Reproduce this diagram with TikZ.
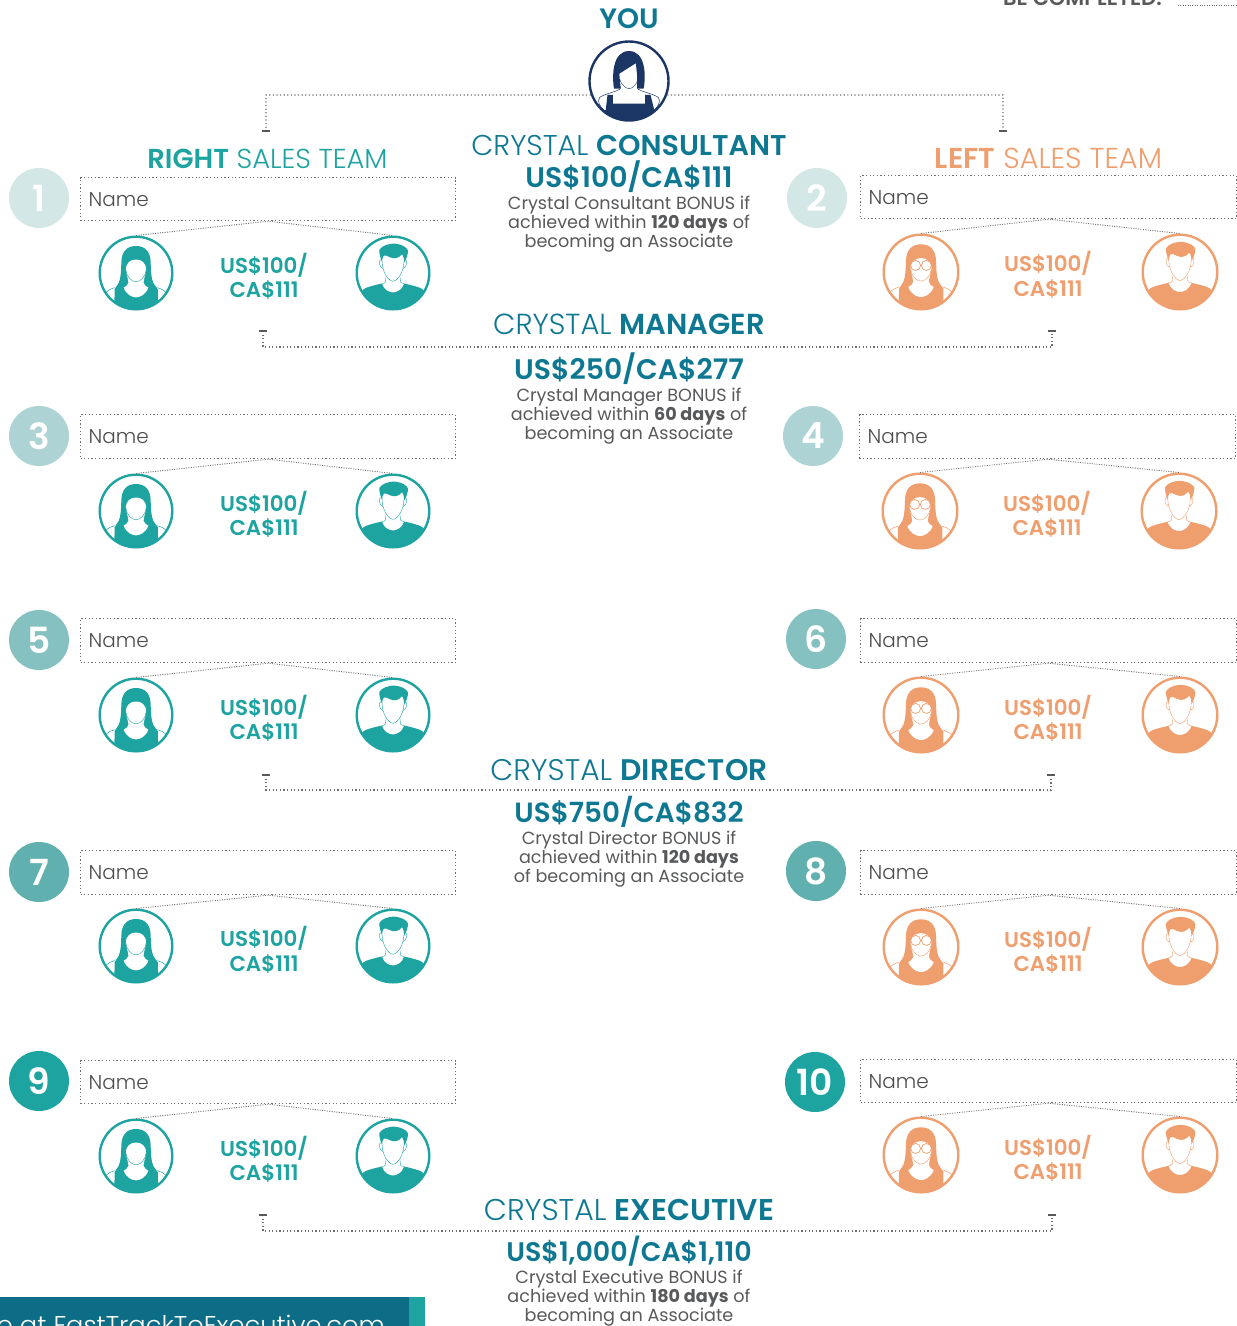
\documentclass[tikz,border=0pt]{standalone}
\usepackage{fontspec}
\setmainfont{Poppins}[UprightFont=* Light,BoldFont=* SemiBold]
\newfontfamily\regf{Poppins}
\definecolor{tealc}{HTML}{1DA3A0}
\definecolor{orangec}{HTML}{EF9E6E}
\definecolor{deepc}{HTML}{0E7792}
\definecolor{navyc}{HTML}{1B3564}
\definecolor{greyc}{HTML}{58595B}
\definecolor{dotc}{HTML}{6D6E70}
\definecolor{badgeA}{HTML}{D3E7E6}
\definecolor{badgeB}{HTML}{ADD3D4}
\definecolor{badgeC}{HTML}{86C1C1}
\definecolor{badgeD}{HTML}{5FB0AF}
\definecolor{badgeE}{HTML}{1DA3A0}
\newcommand\fs[1]{\fontsize{#1}{#1}\selectfont}
\tikzset{
  dotline/.style={draw=dotc,line width=1.2pt,dash pattern=on 1.2pt off 2.4pt},
  thindot/.style={draw=dotc,line width=.9pt,dash pattern=on 1pt off 1.4pt},
  tick/.style={draw=greyc,line width=2pt},
  namebox/.style={dotline,anchor=north west,inner sep=0pt,align=left},
  badge/.style={circle,inner sep=0pt,minimum size=60pt,text=white,font=\bfseries\fs{36}},
  avatar/.style={circle,draw=#1,fill=white,line width=2.4pt,inner sep=0pt},
  heading/.style={anchor=base,text=deepc,inner sep=0pt,font=\fs{28.6}},
  teamhead/.style={anchor=base,inner sep=0pt,font=\fs{27.4}},
  amount/.style={anchor=base,text=deepc,inner sep=0pt,font=\bfseries\fs{28.3}},
  desc/.style={anchor=base,text=greyc,inner sep=0pt,font=\regf\fs{17.6}},
  award/.style={anchor=base,inner sep=0pt,font=\bfseries\fs{21.4}},
}
% unit icons: y grows downward, radius 1
\newcommand\womanicon[5]{% x y r colour glasses
\begin{scope}[shift={(#1,#2)},x=#3pt,y=-#3pt]
\begin{scope}
\clip (0,0) circle[radius=.97];
\fill[#4] (0,-.72) .. controls (-.26,-.72) and (-.38,-.55) .. (-.39,-.3)
 .. controls (-.40,-.05) and (-.40,.12) .. (-.46,.26) .. controls (-.5,.34) and (-.55,.38) .. (-.57,.43)
 -- (-.58,1.1) -- (.58,1.1) -- (.58,.43)
 .. controls (.55,.38) and (.5,.34) .. (.46,.26) .. controls (.40,.12) and (.40,-.05) .. (.39,-.3)
 .. controls (.38,-.55) and (.26,-.72) .. (0,-.72) -- cycle;
\fill[white] (-.27,-.08) .. controls (-.27,-.28) and (-.14,-.36) .. (0,-.36)
 .. controls (.14,-.36) and (.27,-.28) .. (.27,-.08)
 .. controls (.25,.08) and (.2,.15) .. (.2,.26) .. controls (.22,.33) and (.28,.37) .. (.33,.39)
 .. controls (.26,.58) and (.1,.65) .. (0,.65) .. controls (-.1,.65) and (-.26,.58) .. (-.33,.39)
 .. controls (-.28,.37) and (-.22,.33) .. (-.2,.26) .. controls (-.2,.15) and (-.25,.08) .. (-.27,-.08) -- cycle;
\draw[#4,line width=.4pt] (-.27,-.08) .. controls (-.25,.1) and (-.12,.235) .. (0,.235) .. controls (.12,.235) and (.25,.1) .. (.27,-.08);
\draw[#4,line width=.5pt] (-.82,.54) .. controls (-.74,.45) and (-.66,.41) .. (-.57,.39);
\draw[#4,line width=.5pt] (.82,.54) .. controls (.74,.45) and (.66,.41) .. (.57,.39);
\ifnum#5=1
\draw[#4,line width=.7pt,fill=white] (-.14,-.17) circle[radius=.13] (.14,-.17) circle[radius=.13];
\draw[#4,line width=.7pt] (-.27,-.17) -- (-.36,-.2) (.27,-.17) -- (.36,-.2);
\fi
\end{scope}
\end{scope}}
\newcommand\manicon[4]{% x y r colour
\begin{scope}[shift={(#1,#2)},x=#3pt,y=-#3pt]
\begin{scope}
\clip (0,0) circle[radius=.97];
\fill[#4] (-.95,.6) -- (-.78,.43) .. controls (-.7,.37) and (-.5,.33) .. (-.3,.28)
 .. controls (-.24,.46) and (-.1,.52) .. (0,.52) .. controls (.1,.52) and (.24,.46) .. (.3,.28)
 .. controls (.5,.33) and (.7,.37) .. (.78,.43) -- (.95,.6) -- (.95,1.1) -- (-.95,1.1) -- cycle;
\fill[#4] (-.29,-.28) .. controls (-.34,-.42) and (-.38,-.55) .. (-.36,-.62)
 .. controls (-.3,-.72) and (-.12,-.8) .. (.08,-.78) .. controls (.22,-.76) and (.36,-.7) .. (.4,-.6)
 .. controls (.4,-.5) and (.36,-.38) .. (.3,-.28) .. controls (.3,-.36) and (.28,-.46) .. (.24,-.5)
 .. controls (.15,-.4) and (.05,-.36) .. (-.08,-.42) .. controls (-.15,-.46) and (-.2,-.48) .. (-.25,-.46)
 .. controls (-.28,-.42) and (-.29,-.36) .. (-.29,-.28) -- cycle;
\draw[#4,line width=.4pt] (-.29,-.3) .. controls (-.29,-.05) and (-.13,.22) .. (0,.22) .. controls (.13,.22) and (.29,-.05) .. (.29,-.3);
\draw[#4,line width=.4pt] (-.19,.12) -- (-.2,.24) .. controls (-.21,.27) and (-.25,.27) .. (-.3,.28);
\draw[#4,line width=.4pt] (.19,.12) -- (.2,.24) .. controls (.21,.27) and (.25,.27) .. (.3,.28);
\draw[#4,line width=.4pt] (-.3,-.36) .. controls (-.4,-.38) and (-.38,-.15) .. (-.27,-.12);
\draw[#4,line width=.4pt] (.3,-.36) .. controls (.4,-.38) and (.38,-.15) .. (.27,-.12);
\end{scope}
\end{scope}}
\begin{document}
\begin{tikzpicture}[x=1pt,y=-1pt]
\useasboundingbox (0,0) rectangle (1237,1326);
\clip (0,0) rectangle (1237,1326);
\fill[white] (0,0) rectangle (1237,1326);
% top-right
\node[anchor=base east,inner sep=0pt,text=greyc,font=\bfseries\fs{21}] (done) at (1162,5) {BE COMPLETED:};
\coordinate (dl) at (1178,5); \coordinate (dr) at (1236,5);
\draw[thindot,line width=.6pt] (dl) -- (dr);
% you
\node[anchor=base,text=deepc,inner sep=0pt,font=\bfseries\fs{28}] (you) at (629,28) {YOU};
\node[avatar=navyc,minimum size=79pt] (me) at (629,81) {};
\begin{scope}[shift={(629,81)},x=40.5pt,y=-40.5pt]
\begin{scope}
\clip (0,0) circle[radius=.97];
\fill[navyc] (-.37,.19) .. controls (-.42,-.1) and (-.42,-.74) .. (0,-.74)
 .. controls (.42,-.74) and (.42,-.1) .. (.36,.19) -- (.2,.19) -- (.2,-.14)
 -- (.17,-.44) -- (-.24,-.18) -- (-.22,.05) -- (-.2,.19) -- cycle;
\fill[navyc] (-.53,.34) -- (-.4,.34) -- (-.4,.56) -- (.4,.56) -- (.4,.34) -- (.53,.34) -- (.62,.7) -- (.62,1.1) -- (-.62,1.1) -- cycle;
\fill[navyc] (-.9,.72) rectangle (-.5,1.1);
\fill[navyc] (.9,.72) rectangle (.5,1.1);
\draw[navyc,line width=.4pt] (-.23,-.05) .. controls (-.2,.08) and (-.08,.19) .. (0,.19) .. controls (.08,.19) and (.2,.08) .. (.22,-.05);
\draw[navyc,line width=.5pt] (-.72,.4) .. controls (-.55,.3) and (-.35,.28) .. (-.22,.2);
\draw[navyc,line width=.5pt] (.72,.4) .. controls (.55,.3) and (.35,.28) .. (.22,.2);
\draw[navyc,line width=.5pt] (-.72,.4) .. controls (-.8,.5) and (-.72,.62) .. (-.62,.72);
\draw[navyc,line width=.5pt] (.72,.4) .. controls (.8,.5) and (.72,.62) .. (.62,.72);
\end{scope}
\end{scope}
% top bracket
\coordinate (tl) at (266,95); \coordinate (tle) at (266,130);
\coordinate (tr) at (1003,95); \coordinate (tre) at (1003,130);
\draw[dotline] (me.200) -- (tl) -- (tle);
\draw[dotline] (me.-20) -- (tr) -- (tre);
\draw[tick] (262,130.5) -- (270,130.5);
\draw[tick] (999,130.5) -- (1007,130.5);
% team heads
\node[teamhead,text=tealc] (rt) at (267.5,168) {\textbf{RIGHT} SALES TEAM};
\node[teamhead,text=orangec,font=\fs{28.8}] (lt) at (1048.5,168.5) {\textbf{LEFT} SALES TEAM};
% centre: consultant
\node[heading] (h1) at (629,155) {CRYSTAL \textbf{CONSULTANT}};
\node[amount] (a1) at (629,187) {US\$100/CA\$111};
\node[desc] (d1a) at (629,209) {Crystal Consultant BONUS if};
\node[desc] (d1b) at (629,228) {achieved within \textbf{120 days} of};
\node[desc] (d1c) at (629,247) {becoming an Associate};
% manager
\node[heading,font=\fs{29}] (h2) at (629,334) {CRYSTAL \textbf{MANAGER}};
\coordinate (m1) at (263,347); \coordinate (m1e) at (263,331);
\coordinate (m2) at (1052,347); \coordinate (m2e) at (1052,331);
\draw[dotline] (m1e) -- (m1) -- (m2) -- (m2e);
\draw[tick] (259,330.5) -- (267,330.5); \draw[tick] (1048,330.5) -- (1056,330.5);
\node[amount] (a2) at (629,379) {US\$250/CA\$277};
\node[desc] (d2a) at (629,401) {Crystal Manager BONUS if};
\node[desc] (d2b) at (629,420) {achieved within \textbf{60 days} of};
\node[desc] (d2c) at (629,439) {becoming an Associate};
% director
\node[heading,font=\fs{29.8}] (h3) at (629,780.5) {CRYSTAL \textbf{DIRECTOR}};
\coordinate (r1) at (266,790); \coordinate (r1e) at (266,775);
\coordinate (r2) at (1051,790); \coordinate (r2e) at (1051,775);
\draw[dotline] (r1e) -- (r1) -- (r2) -- (r2e);
\draw[tick] (262,774.5) -- (270,774.5); \draw[tick] (1047,774.5) -- (1055,774.5);
\node[amount,font=\bfseries\fs{27.8}] (a3) at (629,822) {US\$750/CA\$832};
\node[desc] (d3a) at (629,844) {Crystal Director BONUS if};
\node[desc] (d3b) at (629,863) {achieved within \textbf{120 days}};
\node[desc] (d3c) at (629,882) {of becoming an Associate};
% executive
\node[heading,font=\fs{30}] (h4) at (629,1220.5) {CRYSTAL \textbf{EXECUTIVE}};
\coordinate (e1) at (263,1231); \coordinate (e1e) at (263,1215);
\coordinate (e2) at (1052,1231); \coordinate (e2e) at (1052,1215);
\draw[dotline] (e1e) -- (e1) -- (e2) -- (e2e);
\draw[tick] (259,1214.5) -- (267,1214.5); \draw[tick] (1048,1214.5) -- (1056,1214.5);
\node[amount,font=\bfseries\fs{26.9}] (a4) at (629,1261.5) {US\$1,000/CA\$1,110};
\node[desc] (d4a) at (629,1283) {Crystal Executive BONUS if};
\node[desc] (d4b) at (629,1302) {achieved within \textbf{180 days} of};
\node[desc] (d4c) at (629,1321) {becoming an Associate};
% rows
\foreach \n/\bx/\by/\bw/\bh/\cx/\cy/\bc/\ax/\mx/\iy/\r/\col/\tx/\ya/\yb/\gl in {
 1/80/177/375/43/39/198/badgeA/136/393/273/37.5/tealc/264/273/297/0,
 2/860/175/376/43/817/198/badgeA/921/1180/272/38.5/orangec/1048/271/296/1,
 3/80/414/375/44/39/436/badgeB/136/393/511/37.5/tealc/264/511/535/0,
 4/859/414/376/44/813/436/badgeB/920/1179/511/38.5/orangec/1047/511/535/1,
 5/80/618/375/44/39/640/badgeC/136/393/715/37.5/tealc/264/715/739/0,
 6/860/618/376/44/816/639/badgeC/921/1180/715/38.5/orangec/1048/715/739/1,
 7/80/850/375/44/39/872/badgeD/136/393/946/37.5/tealc/264/946/971/0,
 8/860/850/376/44/816/871/badgeD/921/1180/947/38.5/orangec/1048/947/971/1,
 9/80/1060/375/43/39/1081/badgeE/136/393/1156/37.5/tealc/264/1156/1180/0,
 10/860/1059/376/43/815/1082/badgeE/921/1180/1155/38.5/orangec/1048/1155/1179/1}{
 \node[namebox,minimum width=\bw pt,minimum height=\bh pt,text width=\bw pt-8pt,inner xsep=0pt,text=greyc!85!black,font=\fs{20}] (box\n) at (\bx,\by) {\hspace*{4pt}Name};
 \node[badge,fill=\bc] (num\n) at (\cx,\cy) {\n};
 \node[avatar=\col,minimum size=2*\r pt-2.4pt] (f\n) at (\ax,\iy) {};
 \node[avatar=\col,minimum size=2*\r pt-2.4pt] (g\n) at (\mx,\iy) {};
 \womanicon{\ax}{\iy}{\r}{\col}{\gl}
 \manicon{\mx}{\iy}{\r}{\col}
 \draw[thindot] (f\n.north) -- (box\n.south) -- (g\n.north);
 \node[award,text=\col] (u\n) at (\tx,\ya) {US\$100/};
 \node[award,text=\col] (c\n) at (\tx,\yb) {CA\$111};
}
% bottom bar
\fill[tealc] (409,1297) rectangle (425,1326);
\fill[deepc!92!black] (0,1297) rectangle (409,1326);
\node[anchor=base east,inner sep=0pt,text=white,font=\fs{25.7}] (web) at (385,1334) {e at FastTrackToExecutive.com};
\end{tikzpicture}
\end{document}
